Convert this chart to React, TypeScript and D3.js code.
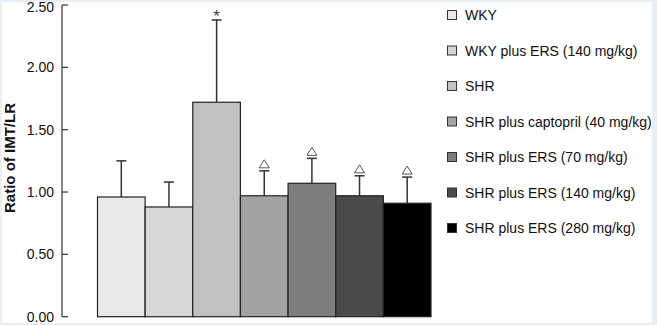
import React from "react";
import * as d3 from "d3";

const categories = [
  "WKY",
  "WKY plus ERS (140 mg/kg)",
  "SHR",
  "SHR plus captopril (40 mg/kg)",
  "SHR plus ERS (70 mg/kg)",
  "SHR plus ERS (140 mg/kg)",
  "SHR plus ERS (280 mg/kg)",
];
const means = [0.96, 0.88, 1.72, 0.97, 1.07, 0.97, 0.91];
const errors = [0.29, 0.2, 0.66, 0.2, 0.2, 0.16, 0.21];
const markers = ["", "", "*", "△", "△", "△", "△"];
const fills = ["#e9e9e9", "#d7d7d7", "#c1c1c1", "#a2a2a2", "#7d7d7d", "#4a4a4a", "#000000"];
const yTicks = [0, 0.5, 1, 1.5, 2, 2.5];

const W = 657;
const H = 325;

export default function App() {
  const y = d3.scaleLinear().domain([0, 2.5]).range([316.7, 5]);
  const x = d3.scaleBand<string>().domain(categories).range([97.5, 431]).padding(0);
  const font = "Liberation Sans, Arial, sans-serif";
  const legendY = (i: number) => 15 + i * 35.5;

  return (
    <div style={{ position: "fixed", left: 0, top: 0 }}>
      <svg width={W} height={H} style={{ display: "block" }}>
        <rect x={0} y={0} width={W} height={H} fill="#e8eff8" />
        <rect x={2} y={2} width={650} height={321} fill="#ffffff" />

        {/* y axis */}
        <line x1={62} x2={62} y1={y(2.5)} y2={y(0)} stroke="#333" strokeWidth={1.2} />
        {yTicks.map((t) => (
          <g key={t}>
            <line x1={62} x2={68} y1={y(t)} y2={y(t)} stroke="#333" strokeWidth={1.2} />
            <text
              x={54}
              y={Math.max(y(t), 7)}
              textAnchor="end"
              dominantBaseline="central"
              fontFamily={font}
              fontSize={14}
              fill="#111"
            >
              {t.toFixed(2)}
            </text>
          </g>
        ))}
        <text
          transform={`translate(15,158) rotate(-90)`}
          textAnchor="middle"
          fontFamily={font}
          fontSize={15}
          fontWeight="bold"
          fill="#111"
        >
          Ratio of IMT/LR
        </text>

        {/* bars */}
        {categories.map((c, i) => {
          const bx = x(c)!;
          const bw = x.bandwidth();
          const cx = bx + bw / 2;
          const top = y(means[i]);
          const errTop = y(means[i] + errors[i]);
          return (
            <g key={c}>
              <line x1={cx} x2={cx} y1={top} y2={errTop} stroke="#333" strokeWidth={1.5} />
              <line x1={cx - 5} x2={cx + 5} y1={errTop} y2={errTop} stroke="#333" strokeWidth={1.5} />
              <rect x={bx} y={top} width={bw} height={y(0) - top} fill={fills[i]} stroke="#222" strokeWidth={1.2} />
              {markers[i] === "*" && (
                <text
                  x={cx}
                  y={errTop + 2}
                  textAnchor="middle"
                  fontFamily={font}
                  fontSize={17}
                  fill="#444"
                >
                  *
                </text>
              )}
              {markers[i] === "△" && (
                <path
                  d={`M${cx - 5},${errTop - 3} L${cx + 5},${errTop - 3} L${cx},${errTop - 11} Z`}
                  fill="#fff"
                  stroke="#555"
                  strokeWidth={1}
                />
              )}
            </g>
          );
        })}

        {/* legend */}
        {categories.map((c, i) => (
          <g key={"lg" + c}>
            <rect
              x={447.5}
              y={legendY(i) - 4.5}
              width={9}
              height={9}
              fill={fills[i]}
              stroke="#333"
              strokeWidth={1}
            />
            <text
              x={465}
              y={legendY(i)}
              dominantBaseline="central"
              fontFamily={font}
              fontSize={14}
              fill="#111"
            >
              {c}
            </text>
          </g>
        ))}
      </svg>
    </div>
  );
}
